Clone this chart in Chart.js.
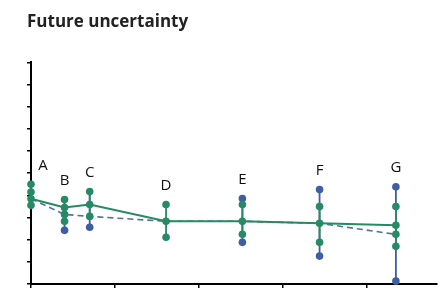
<!DOCTYPE html>
<html>
<head>
<meta charset="utf-8">
<script src="https://cdn.jsdelivr.net/npm/chart.js@4"></script>
<style>
  html, body { margin: 0; padding: 0; background: #fff; }
</style>
</head>
<body>
<canvas id="chart" width="441" height="288"></canvas>
<script>
/* ------------------------------------------------------------
   DATA
------------------------------------------------------------ */
const groupNames = ["A", "B", "C", "D", "E", "F", "G"];
const groupX     = [0, 4, 7, 16.1, 25.2, 34.4, 43.5];
const solidLine  = [3.85, 3.45, 3.59, 2.83, 2.83, 2.74, 2.65];
const dashedLine = [3.85, 3.14, 3.05, 2.83, 2.83, 2.74, 2.24];
const greenDots  = [
    [4.5, 4.15, 3.85, 3.55],
    [3.81, 3.45, 3.14, 2.83],
    [4.17, 3.59, 3.05],
    [3.59, 2.83, 2.11],
    [3.59, 2.83, 2.24],
    [3.5, 2.74, 1.88],
    [3.5, 2.65, 2.24, 1.7]
];
const blueDots   = [[], [2.42], [2.56], [], [3.86, 1.88], [4.26, 1.26], [4.39, 0.13]];
const xTicks     = [0, 10, 20, 30, 40];
const yTicks     = [0, 1, 2, 3, 4, 5, 6, 7, 8, 9, 10];

/* ------------------------------------------------------------
   THEME
------------------------------------------------------------ */
const GREEN = "#268a64";
const BLUE = "#3d5ea3";
const DASH = "#4f7396";

/* ------------------------------------------------------------
   BUILD POINT LISTS
------------------------------------------------------------ */
const toPoints = ys => groupX.map((x, i) => ({ x, y: ys[i] }));

const greenPts = [], bluePts = [], greenRange = [], blueRange = [];
groupX.forEach((x, i) => {
    const g = greenDots[i];
    const all = g.concat(blueDots[i]);
    g.forEach(y => greenPts.push({ x, y }));
    blueDots[i].forEach(y => bluePts.push({ x, y }));
    greenRange.push({ x, y: Math.min(...g) }, { x, y: Math.max(...g) }, { x, y: null });
    if (blueDots[i].length) {
        blueRange.push({ x, y: Math.min(...all) }, { x, y: Math.max(...all) }, { x, y: null });
    }
});

/* ------------------------------------------------------------
   GROUP LETTERS ABOVE EACH STACK
------------------------------------------------------------ */
const groupLabels = {
    id: "groupLabels",
    afterDatasetsDraw(chart) {
        const { ctx, scales: { x, y } } = chart;
        ctx.save();
        ctx.font = "15px 'Open Sans'";
        ctx.fillStyle = "#111";
        ctx.textAlign = "center";
        ctx.textBaseline = "middle";
        groupNames.forEach((name, i) => {
            const top = Math.max(...greenDots[i], ...blueDots[i]);
            ctx.fillText(name, x.getPixelForValue(groupX[i]) + (i === 0 ? 12 : 0), y.getPixelForValue(top) - 19);
        });
        ctx.restore();
    }
};

const axisStyle = (ticks) => ({
    type: "linear",
    border: { display: true, color: "#000", width: 2 },
    grid: { display: true, drawOnChartArea: false, drawTicks: true, tickLength: 4, color: "#000", lineWidth: 1.5 },
    ticks: { display: false },
    afterBuildTicks: axis => { axis.ticks = ticks.map(v => ({ value: v })); }
});

new Chart(document.getElementById("chart"), {
    type: "scatter",
    data: {
        datasets: [
            { data: toPoints(dashedLine), showLine: true, borderColor: DASH, borderWidth: 1.6, borderDash: [6, 4], pointRadius: 0, order: 6 },
            { data: blueRange, showLine: true, spanGaps: false, borderColor: BLUE, borderWidth: 1.8, pointRadius: 0, order: 5 },
            { data: greenRange, showLine: true, spanGaps: false, borderColor: GREEN, borderWidth: 1.8, pointRadius: 0, order: 4 },
            { data: toPoints(solidLine), showLine: true, borderColor: GREEN, borderWidth: 2, pointRadius: 0, order: 3 },
            { data: bluePts, backgroundColor: BLUE, borderWidth: 0, pointRadius: 3.8, order: 2 },
            { data: greenPts, backgroundColor: GREEN, borderWidth: 0, pointRadius: 3.8, order: 1 }
        ].map(d => Object.assign({ clip: false }, d))
    },
    options: {
        responsive: false,
        animation: false,
        layout: { padding: { left: 27, right: 0, top: 0, bottom: 0 } },
        plugins: {
            legend: { display: false },
            tooltip: { enabled: false },
            title: {
                display: true,
                text: "Future uncertainty",
                align: "start",
                color: "#222",
                font: { family: "'Open Sans'", size: 17, weight: "bold", lineHeight: 1.2 },
                padding: { top: 12, bottom: 30 }
            }
        },
        scales: {
            x: Object.assign(axisStyle(xTicks), { min: 0, max: 48.4 }),
            y: Object.assign(axisStyle(yTicks), { min: 0, max: 10 })
        }
    },
    plugins: [groupLabels]
});
</script>
</body>
</html>
